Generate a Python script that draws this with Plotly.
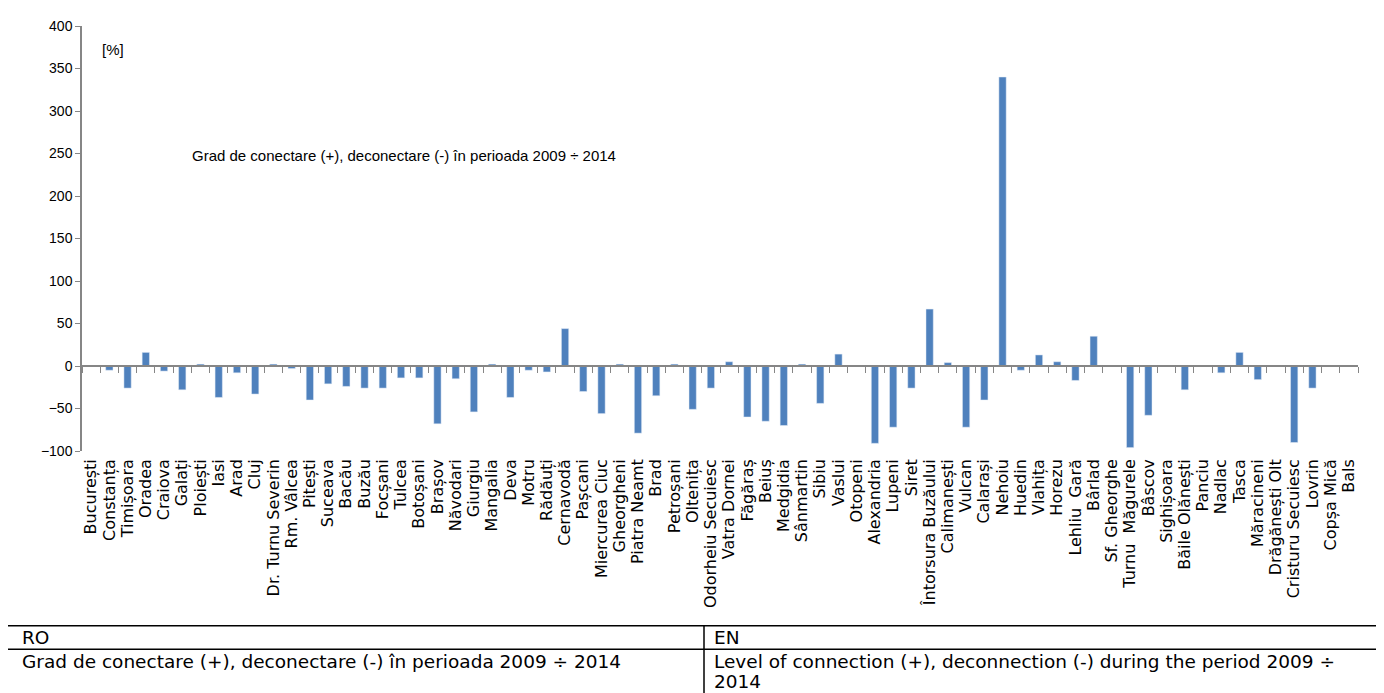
import plotly.graph_objects as go

cities = [
    "București", "Constanța", "Timișoara", "Oradea", "Craiova", "Galați", "Ploiești", "Iasi",
    "Arad", "Cluj", "Dr. Turnu Severin", "Rm. Vâlcea", "Pitești", "Suceava", "Bacău", "Buzău",
    "Focșani", "Tulcea", "Botoșani", "Brașov", "Năvodari", "Giurgiu", "Mangalia", "Deva",
    "Motru", "Rădăuți", "Cernavodă", "Pașcani", "Miercurea Ciuc", "Gheorgheni", "Piatra Neamt",
    "Brad", "Petroșani", "Oltenița", "Odorheiu Secuiesc", "Vatra Dornei", "Făgăraș", "Beiuș",
    "Medgidia", "Sânmartin", "Sibiu", "Vaslui", "Otopeni", "Alexandria", "Lupeni", "Siret",
    "Întorsura Buzăului", "Calimanești", "Vulcan", "Calarași", "Nehoiu", "Huedin", "Vlahița",
    "Horezu", "Lehliu  Gară", "Bârlad", "Sf. Gheorghe", "Turnu  Măgurele", "Bâscov", "Sighișoara",
    "Băile Olănești", "Panciu", "Nadlac", "Tasca", "Măracineni", "Drăgănești Olt",
    "Cristuru Secuiesc", "Lovrin", "Copșa Mică", "Bals",
]

values = [
    0, -5, -26, 16, -6, -28, 2, -37,
    -8, -33, 2, -3, -40, -21, -24, -26,
    -26, -14, -14, -68, -15, -54, 2, -37,
    -5, -7, 44, -30, -56, 2, -79,
    -35, 2, -51, -26, 5, -60, -65,
    -70, 2, -44, 14, 0, -91, -72, -26,
    67, 4, -72, -40, 340, -5, 13,
    5, -17, 35, 0, -96, -58, 0,
    -28, 0, -8, 16, -16, 0,
    -90, -26, 0, 0,
]

y_ticks = [-100, -50, 0, 50, 100, 150, 200, 250, 300, 350, 400]
y_range = [-100, 400]

chart_note = "Grad de conectare (+), deconectare (-) în perioada 2009 ÷ 2014"
unit_label = "[%]"
table_head = ["RO", "EN"]
table_ro = "Grad de conectare (+), deconectare (-) în perioada 2009 ÷ 2014"
table_en = ["Level of connection (+), deconnection (-) during the period 2009 ÷", "2014"]

W, H = 1384, 693
OFF = 8  # page body margin offset
P_LEFT, P_RIGHT, P_TOP, P_BOTTOM = 82, 1358, 18, 451  # target plot-area pixels
ML, MT = P_LEFT - OFF, P_TOP - OFF
MR, MB = W - (P_RIGHT - OFF), H - (P_BOTTOM - OFF)
PW, PH = P_RIGHT - P_LEFT, P_BOTTOM - P_TOP


def px_x(x):
    return (x - P_LEFT) / PW


def px_y(y):
    return (P_BOTTOM - y) / PH


BAR = "#4F81BD"
AXIS = "#868686"
zero_pos = (0 - y_range[0]) / (y_range[1] - y_range[0])

fig = go.Figure()
fig.add_trace(go.Bar(x=cities, y=values, marker=dict(color=BAR, line=dict(width=0)),
                     showlegend=False, hoverinfo="x+y"))
fig.add_trace(go.Bar(x=cities, y=values, xaxis="x2", marker=dict(color="rgba(0,0,0,0)"),
                     showlegend=False, hoverinfo="skip"))

fig.update_layout(
    width=W, height=H,
    margin=dict(l=ML, r=MR, t=MT, b=MB),
    paper_bgcolor="white", plot_bgcolor="white",
    bargap=0.6,
    xaxis=dict(type="category", showline=False, ticks="", showgrid=False, zeroline=False,
               tickmode="array", tickvals=cities, ticktext=cities,
               tickangle=-90, ticklabelstandoff=4,
               tickfont=dict(family="DejaVu Sans", size=16, color="#000000")),
    xaxis2=dict(type="category", overlaying="x", matches="x", anchor="free", position=zero_pos,
                side="bottom", showline=True, linecolor=AXIS, linewidth=1.5,
                ticks="outside", ticklen=6, tickcolor=AXIS, tickwidth=1, tickson="boundaries",
                showticklabels=False, showgrid=False, zeroline=False),
    yaxis=dict(range=y_range, tickvals=y_ticks, showline=True, linecolor=AXIS, linewidth=1.5,
               ticks="outside", ticklen=5, tickcolor=AXIS, showgrid=False, zeroline=False,
               tickfont=dict(family="Liberation Sans Narrow, Liberation Sans, sans-serif",
                             size=14, color="#000000")),
    font=dict(family="DejaVu Sans", color="#000000"),
)

narrow = dict(family="Liberation Sans Narrow, Liberation Sans, sans-serif", size=15, color="#000000")
fig.add_annotation(x=px_x(100), y=px_y(42), xref="paper", yref="paper", text=unit_label,
                   showarrow=False, xanchor="left", yanchor="middle", font=narrow)
fig.add_annotation(x=px_x(190), y=px_y(150), xref="paper", yref="paper", text=chart_note,
                   showarrow=False, xanchor="left", yanchor="middle", font=narrow)

# table below chart
line = dict(color="#000000", width=1.5)
x_left, x_mid, x_right = px_x(6), px_x(704), px_x(1400)
y_top, y_sep, y_bot = px_y(629), px_y(653), px_y(710)
for (x0, y0, x1, y1) in [(x_left, y_top, x_right, y_top), (x_left, y_sep, x_right, y_sep),
                         (x_left, y_top, x_left, y_bot), (x_mid, y_top, x_mid, y_bot)]:
    fig.add_shape(type="line", xref="paper", yref="paper", x0=x0, y0=y0, x1=x1, y1=y1, line=line)

tfont = dict(family="DejaVu Sans", size=18.5, color="#000000")
fig.add_annotation(x=px_x(20), y=px_y(641), xref="paper", yref="paper", text=table_head[0],
                   showarrow=False, xanchor="left", yanchor="middle", font=tfont)
fig.add_annotation(x=px_x(712), y=px_y(641), xref="paper", yref="paper", text=table_head[1],
                   showarrow=False, xanchor="left", yanchor="middle", font=tfont)
fig.add_annotation(x=px_x(20), y=px_y(665), xref="paper", yref="paper", text=table_ro,
                   showarrow=False, xanchor="left", yanchor="middle", font=tfont)
fig.add_annotation(x=px_x(712), y=px_y(665), xref="paper", yref="paper", text=table_en[0],
                   showarrow=False, xanchor="left", yanchor="middle", font=tfont)
fig.add_annotation(x=px_x(712), y=px_y(686), xref="paper", yref="paper", text=table_en[1],
                   showarrow=False, xanchor="left", yanchor="middle", font=tfont)

fig.write_html("out.html")
